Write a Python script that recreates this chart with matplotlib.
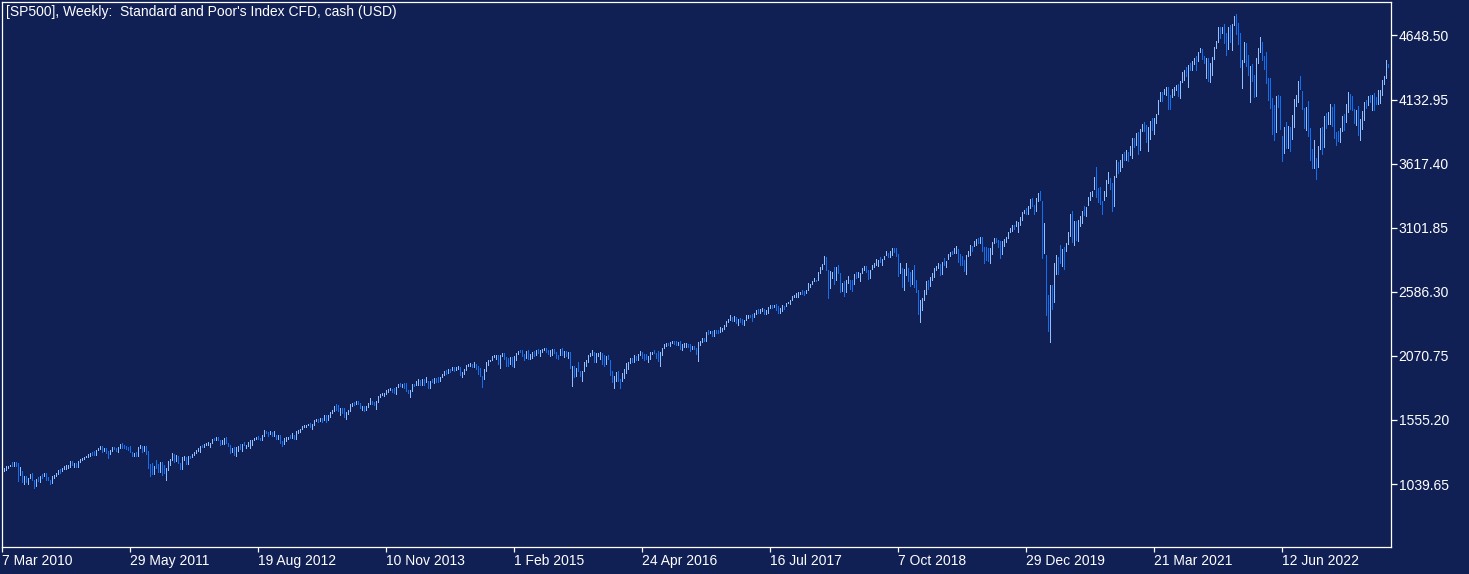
# Weekly SP500 CFD bar chart, terminal style

import numpy as np
import pandas as pd
import matplotlib
matplotlib.use('Agg')
import matplotlib.pyplot as plt

W, H = 1469, 574
BG = '#112054'
UP = '#90c0ff'
DOWN = '#1070f0'
FG = 'white'

title = "[SP500], Weekly:  Standard and Poor's Index CFD, cash (USD)"
first_week = '2010-03-07'
first_open = 1138.70

# weekly highs, one row per year (2010 starts 7 Mar, 2023 ends with a partial week)
week_high = [
    [1153, 1169, 1181, 1182, 1194, 1213, 1217, 1220, 1205, 1173, 1141, 1104, 1105, 1092, 1120, 1131, 1074, 1078, 1099, 1103, 1120, 1128, 1129, 1100, 1074, 1105, 1110, 1131, 1149, 1158, 1168, 1184, 1189, 1196, 1227, 1227, 1207, 1207, 1225, 1240, 1247, 1259, 1262],
    [1278, 1293, 1296, 1302, 1311, 1330, 1344, 1342, 1332, 1330, 1306, 1314, 1337, 1339, 1328, 1338, 1364, 1370, 1354, 1346, 1334, 1345, 1301, 1292, 1298, 1341, 1356, 1343, 1347, 1345, 1307, 1199, 1208, 1181, 1230, 1204, 1220, 1220, 1195, 1171, 1224, 1240, 1292, 1285, 1277, 1266, 1208, 1255, 1267, 1255, 1265, 1269],
    [1284, 1296, 1315, 1333, 1345, 1354, 1363, 1368, 1378, 1372, 1405, 1414, 1419, 1422, 1397, 1392, 1406, 1415, 1371, 1354, 1328, 1334, 1335, 1343, 1363, 1362, 1375, 1357, 1380, 1390, 1392, 1407, 1419, 1426, 1413, 1438, 1475, 1465, 1460, 1470, 1462, 1465, 1434, 1434, 1433, 1388, 1409, 1420, 1420, 1438, 1448, 1435],
    [1467, 1472, 1486, 1503, 1514, 1518, 1525, 1530, 1525, 1552, 1564, 1564, 1570, 1573, 1597, 1593, 1592, 1618, 1636, 1667, 1687, 1674, 1649, 1648, 1654, 1620, 1632, 1680, 1693, 1698, 1710, 1709, 1694, 1664, 1670, 1670, 1689, 1729, 1711, 1701, 1704, 1745, 1760, 1775, 1771, 1798, 1805, 1813, 1806, 1811, 1823, 1844],
    [1849, 1843, 1850, 1850, 1798, 1798, 1841, 1847, 1867, 1883, 1877, 1883, 1884, 1897, 1872, 1869, 1884, 1891, 1889, 1902, 1901, 1924, 1949, 1955, 1963, 1968, 1985, 1985, 1983, 1991, 1985, 1942, 1964, 1994, 2005, 2011, 2008, 2020, 2007, 1986, 1977, 1912, 1965, 2018, 2034, 2041, 2071, 2075, 2079, 2076, 2077, 2093],
    [2093, 2064, 2056, 2065, 2064, 2072, 2097, 2110, 2119, 2117, 2083, 2114, 2115, 2088, 2102, 2107, 2120, 2126, 2117, 2124, 2135, 2133, 2121, 2116, 2127, 2126, 2102, 2080, 2127, 2132, 2114, 2112, 2105, 2102, 1993, 1992, 1975, 2021, 1953, 1953, 2020, 2034, 2080, 2094, 2116, 2100, 2097, 2095, 2104, 2090, 2076, 2067],
    [2081, 2038, 1950, 1908, 1940, 1947, 1881, 1930, 1962, 2010, 2022, 2052, 2053, 2075, 2072, 2084, 2111, 2099, 2084, 2084, 2068, 2100, 2105, 2120, 2097, 2113, 2104, 2132, 2169, 2176, 2177, 2183, 2188, 2193, 2187, 2184, 2187, 2163, 2175, 2175, 2169, 2163, 2148, 2154, 2131, 2182, 2189, 2214, 2214, 2260, 2278, 2273, 2273],
    [2282, 2279, 2276, 2301, 2299, 2319, 2351, 2368, 2401, 2386, 2390, 2382, 2370, 2379, 2364, 2361, 2398, 2399, 2403, 2406, 2418, 2440, 2446, 2446, 2453, 2450, 2442, 2463, 2477, 2484, 2480, 2490, 2474, 2454, 2480, 2475, 2500, 2508, 2520, 2552, 2557, 2575, 2582, 2588, 2597, 2590, 2604, 2657, 2652, 2676, 2695, 2685],
    [2743, 2787, 2810, 2873, 2870, 2763, 2755, 2747, 2789, 2787, 2802, 2741, 2661, 2672, 2680, 2717, 2683, 2682, 2732, 2742, 2742, 2735, 2779, 2791, 2790, 2764, 2760, 2802, 2816, 2848, 2841, 2863, 2850, 2876, 2916, 2900, 2912, 2941, 2940, 2939, 2889, 2817, 2779, 2766, 2815, 2781, 2746, 2760, 2800, 2685, 2601, 2520],
    [2538, 2598, 2675, 2681, 2709, 2738, 2775, 2792, 2816, 2812, 2830, 2860, 2836, 2893, 2910, 2916, 2940, 2954, 2931, 2892, 2873, 2841, 2885, 2911, 2964, 2958, 2996, 3014, 3017, 3028, 3027, 2944, 2943, 2939, 2940, 2985, 3021, 3022, 3007, 2993, 2993, 3008, 3027, 3067, 3098, 3120, 3127, 3154, 3146, 3188, 3225, 3248],
    [3258, 3276, 3330, 3338, 3285, 3341, 3385, 3394, 3320, 3136, 2882, 2560, 2637, 2641, 2818, 2880, 2869, 2964, 2934, 2945, 2980, 3068, 3211, 3233, 3155, 3154, 3165, 3198, 3235, 3280, 3272, 3352, 3388, 3399, 3509, 3588, 3425, 3428, 3320, 3397, 3482, 3549, 3502, 3464, 3521, 3646, 3628, 3644, 3699, 3712, 3726, 3712],
    [3760, 3827, 3823, 3861, 3870, 3894, 3937, 3950, 3932, 3915, 3960, 3983, 3981, 4020, 4129, 4191, 4194, 4218, 4238, 4238, 4172, 4218, 4234, 4249, 4262, 4286, 4355, 4372, 4393, 4415, 4430, 4440, 4468, 4480, 4513, 4545, 4537, 4486, 4466, 4465, 4429, 4476, 4559, 4608, 4718, 4714, 4718, 4744, 4672, 4713, 4731, 4740, 4809],
    [4819, 4749, 4665, 4453, 4595, 4590, 4490, 4403, 4416, 4327, 4465, 4546, 4637, 4595, 4487, 4513, 4308, 4307, 4144, 4090, 4158, 4168, 4164, 3838, 3913, 3950, 3918, 3910, 4012, 4140, 4167, 4281, 4325, 4203, 4062, 4077, 4119, 3907, 3736, 3806, 3662, 3762, 3905, 3911, 4001, 4028, 4034, 4100, 4076, 4100, 3876, 3878],
    [3907, 4004, 4015, 4095, 4195, 4176, 4158, 4060, 4048, 4078, 3975, 4039, 4110, 4133, 4163, 4170, 4170, 4187, 4155, 4213, 4212, 4290, 4323, 4448, 4420],
]

week_low = [
    [1135, 1141, 1156, 1165, 1181, 1186, 1188, 1181, 1066, 1110, 1056, 1041, 1060, 1042, 1087, 1071, 1011, 1022, 1062, 1056, 1088, 1101, 1076, 1069, 1040, 1047, 1091, 1107, 1122, 1131, 1143, 1159, 1159, 1171, 1180, 1194, 1173, 1176, 1173, 1219, 1233, 1243, 1254],
    [1257, 1262, 1271, 1275, 1276, 1312, 1324, 1294, 1302, 1291, 1249, 1280, 1307, 1324, 1309, 1294, 1331, 1329, 1330, 1318, 1311, 1296, 1268, 1262, 1262, 1268, 1333, 1295, 1303, 1282, 1168, 1102, 1121, 1121, 1170, 1136, 1136, 1114, 1127, 1075, 1156, 1191, 1231, 1215, 1226, 1209, 1158, 1158, 1229, 1202, 1204, 1248],
    [1258, 1274, 1290, 1306, 1300, 1337, 1340, 1354, 1354, 1340, 1368, 1391, 1391, 1392, 1357, 1365, 1358, 1367, 1343, 1291, 1295, 1277, 1266, 1306, 1324, 1309, 1351, 1326, 1345, 1329, 1354, 1390, 1398, 1398, 1397, 1396, 1428, 1452, 1430, 1439, 1425, 1427, 1403, 1403, 1373, 1343, 1360, 1385, 1398, 1411, 1413, 1398],
    [1398, 1451, 1461, 1485, 1495, 1495, 1511, 1497, 1485, 1514, 1548, 1538, 1546, 1539, 1552, 1536, 1555, 1581, 1611, 1630, 1636, 1630, 1598, 1608, 1577, 1560, 1601, 1631, 1671, 1676, 1681, 1684, 1655, 1639, 1628, 1633, 1656, 1687, 1687, 1676, 1646, 1696, 1742, 1752, 1746, 1760, 1780, 1800, 1779, 1772, 1767, 1819],
    [1827, 1823, 1815, 1790, 1770, 1738, 1791, 1825, 1836, 1834, 1839, 1839, 1839, 1857, 1814, 1816, 1859, 1851, 1859, 1862, 1868, 1901, 1915, 1925, 1933, 1944, 1955, 1952, 1955, 1965, 1916, 1904, 1928, 1958, 1990, 1992, 1983, 1978, 1965, 1926, 1905, 1821, 1886, 1951, 2001, 2028, 2035, 2064, 2049, 2002, 1972, 2069],
    [2046, 1992, 1988, 2004, 1989, 1980, 2041, 2085, 2098, 2067, 2039, 2054, 2045, 2048, 2057, 2073, 2078, 2097, 2067, 2099, 2117, 2099, 2086, 2072, 2079, 2097, 2056, 2044, 2079, 2077, 2063, 2067, 2052, 1970, 1831, 1903, 1911, 1953, 1908, 1871, 1951, 1990, 2023, 2066, 2080, 2022, 2020, 2073, 2042, 2008, 1993, 2005],
    [2043, 1918, 1857, 1812, 1872, 1872, 1810, 1871, 1891, 1931, 1969, 2017, 2023, 2022, 2039, 2039, 2078, 2052, 2039, 2043, 2025, 2047, 2085, 2093, 2050, 2032, 1992, 2074, 2131, 2154, 2156, 2147, 2177, 2169, 2159, 2157, 2127, 2119, 2139, 2145, 2142, 2114, 2126, 2123, 2083, 2028, 2156, 2183, 2187, 2192, 2248, 2258, 2233],
    [2233, 2254, 2258, 2263, 2267, 2288, 2311, 2346, 2358, 2354, 2355, 2335, 2322, 2344, 2328, 2322, 2360, 2378, 2380, 2352, 2380, 2405, 2415, 2419, 2431, 2405, 2407, 2413, 2456, 2459, 2463, 2437, 2417, 2417, 2428, 2446, 2474, 2495, 2489, 2520, 2542, 2547, 2544, 2566, 2566, 2557, 2580, 2598, 2624, 2651, 2676, 2672],
    [2682, 2737, 2768, 2808, 2759, 2533, 2617, 2697, 2647, 2681, 2741, 2585, 2593, 2553, 2586, 2660, 2612, 2594, 2652, 2701, 2707, 2676, 2735, 2765, 2743, 2691, 2698, 2768, 2789, 2804, 2795, 2825, 2802, 2853, 2880, 2864, 2865, 2886, 2903, 2874, 2710, 2741, 2628, 2603, 2722, 2670, 2631, 2649, 2621, 2583, 2408, 2347],
    [2443, 2524, 2570, 2612, 2631, 2681, 2703, 2764, 2774, 2722, 2732, 2800, 2785, 2848, 2873, 2893, 2898, 2900, 2825, 2801, 2805, 2750, 2729, 2874, 2883, 2912, 2952, 2966, 2975, 2976, 2914, 2822, 2840, 2834, 2822, 2891, 2979, 2990, 2946, 2855, 2892, 2952, 2990, 3023, 3066, 3077, 3091, 3117, 3070, 3123, 3166, 3222],
    [3212, 3214, 3263, 3280, 3214, 3235, 3315, 3328, 2856, 2901, 2400, 2270, 2185, 2447, 2505, 2727, 2727, 2816, 2797, 2766, 2914, 2969, 3038, 2984, 2965, 3004, 2999, 3115, 3142, 3205, 3200, 3284, 3328, 3354, 3410, 3349, 3310, 3292, 3209, 3324, 3354, 3458, 3417, 3233, 3280, 3510, 3544, 3555, 3594, 3645, 3647, 3636],
    [3687, 3663, 3749, 3765, 3694, 3725, 3884, 3884, 3789, 3723, 3816, 3891, 3853, 3944, 4020, 4118, 4118, 4178, 4168, 4056, 4061, 4155, 4168, 4206, 4165, 4145, 4272, 4289, 4321, 4233, 4369, 4367, 4420, 4367, 4446, 4513, 4456, 4428, 4305, 4279, 4278, 4329, 4459, 4548, 4595, 4630, 4672, 4585, 4495, 4540, 4600, 4531, 4733],
    [4662, 4582, 4395, 4223, 4436, 4401, 4327, 4115, 4279, 4157, 4161, 4424, 4517, 4450, 4381, 4267, 4128, 4062, 3858, 3810, 3875, 4073, 3900, 3637, 3705, 3740, 3742, 3721, 3818, 3910, 4079, 4112, 4218, 4057, 3907, 3886, 3838, 3647, 3584, 3585, 3492, 3590, 3735, 3698, 3750, 3906, 3938, 3936, 3918, 3827, 3764, 3800],
    [3794, 3877, 3885, 3949, 4031, 4060, 4047, 3944, 3928, 3847, 3809, 3899, 3971, 4069, 4086, 4113, 4049, 4048, 4099, 4098, 4103, 4166, 4261, 4307, 4395],
]

week_close = [
    [1149.99, 1159.90, 1166.59, 1178.10, 1194.37, 1192.13, 1217.28, 1186.69, 1110.88, 1135.68, 1087.69, 1089.41, 1064.88, 1091.60, 1117.51, 1076.76, 1022.58, 1077.96, 1064.88, 1102.66, 1101.60, 1121.64, 1079.25, 1071.69, 1064.59, 1104.51, 1109.55, 1125.59, 1148.67, 1146.24, 1165.15, 1176.19, 1183.08, 1183.26, 1225.85, 1199.21, 1199.73, 1189.40, 1224.71, 1240.40, 1243.91, 1256.77, 1257.64],
    [1271.50, 1293.24, 1283.35, 1276.34, 1310.87, 1329.15, 1343.01, 1319.88, 1321.15, 1304.28, 1279.21, 1313.80, 1332.41, 1328.17, 1319.68, 1337.38, 1363.61, 1340.20, 1337.77, 1333.27, 1331.10, 1300.16, 1270.98, 1271.50, 1268.45, 1339.67, 1343.80, 1316.14, 1345.02, 1292.28, 1199.38, 1178.81, 1123.53, 1176.80, 1173.97, 1154.23, 1216.01, 1136.43, 1131.42, 1155.46, 1224.58, 1238.25, 1285.09, 1253.23, 1263.85, 1215.65, 1158.67, 1244.28, 1255.19, 1219.66, 1265.33, 1257.60],
    [1277.81, 1289.09, 1315.38, 1316.33, 1344.90, 1342.64, 1361.23, 1365.74, 1369.63, 1370.87, 1404.17, 1397.11, 1408.47, 1398.08, 1370.26, 1378.53, 1403.36, 1369.10, 1353.39, 1295.22, 1317.82, 1278.04, 1325.66, 1342.84, 1335.02, 1362.16, 1354.68, 1356.78, 1362.66, 1385.97, 1390.99, 1405.87, 1418.16, 1411.13, 1406.58, 1437.92, 1465.77, 1460.15, 1440.67, 1460.93, 1428.59, 1433.19, 1411.94, 1414.20, 1379.85, 1359.88, 1409.15, 1416.18, 1418.07, 1413.58, 1430.15, 1402.43],
    [1466.47, 1472.05, 1485.98, 1502.96, 1513.17, 1517.93, 1519.79, 1515.60, 1518.20, 1551.18, 1560.70, 1556.89, 1569.19, 1553.28, 1588.85, 1555.25, 1582.24, 1614.42, 1633.70, 1667.47, 1649.60, 1630.74, 1643.38, 1626.73, 1592.43, 1606.28, 1631.89, 1680.19, 1692.09, 1691.65, 1709.67, 1691.42, 1655.83, 1663.50, 1632.97, 1655.17, 1687.99, 1709.91, 1691.75, 1690.50, 1703.20, 1744.50, 1759.77, 1761.64, 1770.61, 1798.18, 1804.76, 1805.81, 1805.09, 1775.32, 1818.32, 1841.40],
    [1831.37, 1842.37, 1838.70, 1790.29, 1782.59, 1797.02, 1838.63, 1836.25, 1859.45, 1878.04, 1841.13, 1866.52, 1857.62, 1865.09, 1815.69, 1864.85, 1863.40, 1881.14, 1878.48, 1877.86, 1900.53, 1923.57, 1949.44, 1936.16, 1962.87, 1960.96, 1985.44, 1967.57, 1978.22, 1978.34, 1925.15, 1931.59, 1955.06, 1988.40, 2003.37, 2007.71, 1985.54, 2010.40, 1982.85, 1967.90, 1906.13, 1886.76, 1964.58, 2018.05, 2031.92, 2039.82, 2063.50, 2067.56, 2075.37, 2002.33, 2070.65, 2088.77],
    [2058.20, 2044.81, 2019.42, 2051.82, 1994.99, 2055.47, 2096.99, 2110.30, 2104.50, 2071.26, 2053.40, 2108.10, 2061.02, 2066.96, 2102.06, 2081.18, 2117.69, 2108.29, 2116.10, 2122.73, 2126.06, 2107.39, 2092.83, 2094.11, 2109.99, 2101.49, 2076.78, 2076.62, 2126.64, 2079.65, 2103.84, 2077.57, 2091.54, 1970.89, 1988.87, 1921.22, 1961.05, 1958.03, 1931.34, 1951.36, 2014.89, 2033.11, 2075.15, 2079.36, 2099.20, 2023.04, 2089.17, 2090.11, 2091.69, 2012.37, 2005.55, 2060.99],
    [2043.94, 1922.03, 1880.33, 1906.90, 1940.24, 1880.05, 1864.78, 1917.78, 1948.05, 1999.99, 2022.19, 2049.58, 2035.94, 2072.78, 2047.60, 2080.73, 2091.58, 2065.30, 2057.14, 2046.61, 2052.32, 2099.06, 2099.13, 2096.07, 2071.22, 2037.41, 2102.95, 2129.90, 2161.74, 2175.03, 2173.60, 2182.87, 2184.05, 2183.87, 2169.04, 2179.98, 2127.81, 2139.16, 2164.69, 2168.27, 2153.74, 2132.98, 2141.16, 2126.41, 2085.18, 2164.45, 2181.90, 2213.35, 2191.95, 2259.53, 2258.07, 2263.79, 2238.83],
    [2276.98, 2274.64, 2271.31, 2294.69, 2297.42, 2316.10, 2351.16, 2367.34, 2383.12, 2372.60, 2378.25, 2343.98, 2362.72, 2355.54, 2328.95, 2348.69, 2384.20, 2399.29, 2390.90, 2381.73, 2415.82, 2439.07, 2431.77, 2433.15, 2438.30, 2423.41, 2425.18, 2459.27, 2472.54, 2472.10, 2476.83, 2441.32, 2425.55, 2443.05, 2476.55, 2461.43, 2500.23, 2502.22, 2519.36, 2549.33, 2553.17, 2575.21, 2581.07, 2587.84, 2582.30, 2578.85, 2602.42, 2642.22, 2651.50, 2675.81, 2683.34, 2673.61],
    [2743.15, 2786.24, 2810.30, 2872.87, 2762.13, 2619.55, 2732.22, 2747.30, 2691.25, 2786.57, 2752.01, 2588.26, 2640.87, 2604.47, 2656.30, 2670.14, 2669.91, 2663.42, 2727.72, 2712.97, 2721.33, 2734.62, 2779.03, 2779.66, 2754.88, 2718.37, 2759.82, 2801.31, 2801.83, 2818.82, 2840.35, 2833.28, 2850.13, 2874.69, 2901.52, 2871.68, 2904.98, 2929.67, 2913.98, 2885.57, 2767.13, 2767.78, 2658.69, 2723.06, 2781.01, 2736.27, 2632.56, 2760.17, 2633.08, 2599.95, 2416.62, 2485.74],
    [2531.94, 2596.26, 2670.71, 2664.76, 2706.53, 2707.88, 2775.60, 2792.67, 2803.69, 2743.07, 2822.48, 2800.71, 2834.40, 2892.74, 2907.41, 2905.03, 2939.88, 2945.64, 2881.40, 2859.53, 2826.06, 2752.06, 2873.34, 2886.98, 2950.46, 2941.76, 2990.41, 3013.77, 2976.61, 3025.86, 2932.05, 2918.65, 2888.68, 2847.11, 2926.46, 2978.71, 3007.39, 2992.07, 2961.79, 2952.01, 2970.27, 2986.20, 3022.55, 3066.91, 3093.08, 3120.46, 3110.29, 3140.98, 3145.91, 3168.80, 3221.22, 3240.02],
    [3234.85, 3265.35, 3329.62, 3295.47, 3225.52, 3327.71, 3380.16, 3337.75, 2954.22, 2972.37, 2711.02, 2304.92, 2541.47, 2488.65, 2789.82, 2874.56, 2836.74, 2830.71, 2929.80, 2863.70, 2955.45, 3044.31, 3193.93, 3041.31, 3097.74, 3009.05, 3130.01, 3185.04, 3224.73, 3215.63, 3271.12, 3351.28, 3372.85, 3397.16, 3508.01, 3426.96, 3340.97, 3319.47, 3298.46, 3348.44, 3477.14, 3483.81, 3465.39, 3269.96, 3509.44, 3585.15, 3557.54, 3638.35, 3699.12, 3663.46, 3709.41, 3703.06],
    [3756.07, 3824.68, 3768.25, 3841.47, 3714.24, 3886.83, 3934.83, 3906.71, 3811.15, 3841.94, 3943.34, 3913.10, 3974.54, 4019.87, 4128.80, 4185.47, 4180.17, 4181.17, 4232.60, 4173.85, 4155.86, 4204.11, 4229.89, 4247.44, 4166.45, 4280.70, 4352.34, 4369.55, 4327.16, 4411.79, 4395.26, 4436.52, 4468.00, 4441.67, 4509.37, 4535.43, 4458.58, 4432.99, 4455.48, 4357.04, 4391.34, 4471.37, 4544.90, 4605.38, 4697.53, 4682.85, 4697.96, 4594.62, 4538.43, 4712.02, 4620.64, 4725.79, 4766.18],
    [4677.03, 4662.85, 4397.94, 4431.85, 4500.53, 4418.64, 4348.87, 4384.65, 4328.87, 4204.31, 4463.12, 4543.06, 4545.86, 4488.28, 4392.59, 4271.78, 4131.93, 4123.34, 4023.89, 3901.36, 4158.24, 4108.54, 3900.86, 3674.84, 3911.74, 3825.33, 3899.38, 3863.16, 3961.63, 4130.29, 4145.19, 4280.15, 4228.48, 4057.66, 3924.26, 4067.36, 3873.33, 3693.23, 3585.62, 3639.66, 3583.07, 3752.75, 3901.06, 3770.55, 3992.93, 3965.34, 4026.12, 4071.70, 3934.38, 3852.36, 3844.82, 3839.50],
    [3895.08, 3999.09, 3972.61, 4070.56, 4136.48, 4090.46, 4079.09, 3970.04, 4045.64, 3861.59, 3916.64, 3970.99, 4109.31, 4105.02, 4137.64, 4133.52, 4169.48, 4136.25, 4124.08, 4191.98, 4205.45, 4282.37, 4298.86, 4409.59, 4400.00],
]

price_ticks = [1039.65, 1555.20, 2070.75, 2586.30, 3101.85, 3617.40, 4132.95, 4648.50]
date_tick_step = 64

for yr, (h, l, c) in enumerate(zip(week_high, week_low, week_close)):
    if not (len(h) == len(l) == len(c)):
        raise ValueError("row %d: %d %d %d" % (yr, len(h), len(l), len(c)))

high = np.array(sum(week_high, []), dtype=float)
low = np.array(sum(week_low, []), dtype=float)
close = np.array(sum(week_close, []), dtype=float)
opn = np.concatenate([[first_open], close[:-1]])
n = len(close)
idx = np.arange(n)
weeks = pd.date_range(first_week, periods=n, freq='7D')

colors = [UP if c >= o else DOWN for o, c in zip(opn, close)]

plt.rcParams['font.family'] = ['Liberation Sans', 'DejaVu Sans']

fig = plt.figure(figsize=(W / 100, H / 100), dpi=100, facecolor=BG)
ax = fig.add_axes([2 / W, 27 / H, 1389 / W, 545 / H])
ax.set_facecolor(BG)

# one pixel wide bars, two pixels apart
ax.vlines(idx, low, high, colors=colors, linewidth=0.6, antialiased=False)

ax.set_xlim(0, 694.5)
ax.set_ylim(533, 4918)

for s in ax.spines.values():
    s.set_color(FG)
    s.set_linewidth(0.9)

ax.yaxis.tick_right()
ax.set_yticks(price_ticks)
ax.set_yticklabels(['%.2f' % p for p in price_ticks])

xt = idx[::date_tick_step]
ax.set_xticks(xt)
ax.set_xticklabels(['%d %s' % (weeks[i].day, weeks[i].strftime('%b %Y')) for i in xt])
for lab in ax.get_xticklabels():
    lab.set_horizontalalignment('left')

ax.tick_params(axis='y', colors=FG, labelcolor=FG, length=4, width=0.9, pad=1.5, labelsize=10)
ax.tick_params(axis='x', colors=FG, labelcolor=FG, length=3.5, width=0.9, pad=1.5, labelsize=10)

fig.text(6 / W, 1 - 12 / H, title, color=FG, fontsize=10, va='center', ha='left')

fig.savefig('out.png', dpi=100, facecolor=BG)
